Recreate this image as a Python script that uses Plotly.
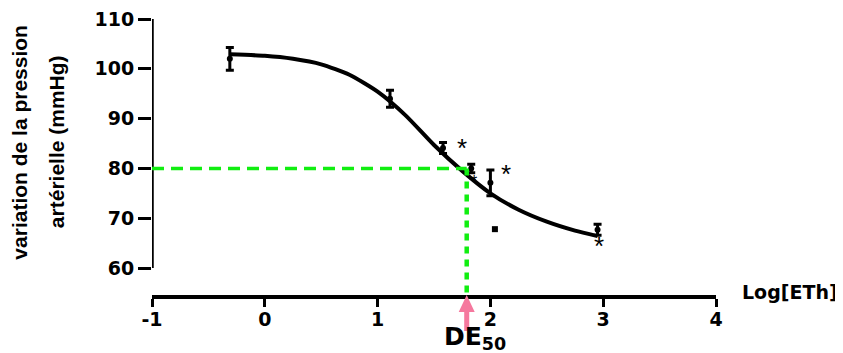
import plotly.graph_objects as go

# ---- data ----
log_dose = [-0.31, 1.11, 1.58, 1.83, 2.0, 2.95]
pressure_mean = [102.0, 94.0, 84.1, 80.0, 77.1, 67.7]
pressure_err = [2.3, 1.7, 1.1, 0.85, 2.6, 1.1]

outlier_x = [2.04]
outlier_y = [67.8]

fit_x = [-0.31, 0.0, 0.25, 0.5, 0.75, 1.0, 1.25, 1.5, 1.75, 2.0, 2.25, 2.5, 2.75, 2.95]
fit_y = [102.9, 102.6, 102.0, 100.9, 98.8, 95.4, 90.6, 84.7, 79.5, 75.0, 71.7, 69.3, 67.5, 66.4]

star_x = [1.745, 2.136, 2.963, 1.855]
star_y = [85.2, 80.1, 65.6, 78.1]
star_size = [26, 26, 26, 16]

de50_x = 1.79
de50_y = 80

x_ticks = [-1, 0, 1, 2, 3, 4]
x_ticklabels = ["-1", "0", "1", "2", "3", "4"]
y_ticks = [60, 70, 80, 90, 100, 110]
x_range = [-1, 4]
y_range = [54.58, 110]

BLACK = "#000000"
GREEN = "#11EE11"
PINK = "#F5789E"
TICKFONT = dict(family="DejaVu Sans", size=19, color=BLACK, weight="bold")

fig = go.Figure()

# fitted curve
fig.add_trace(go.Scatter(
    x=fit_x, y=fit_y, mode="lines",
    line=dict(color=BLACK, width=4, shape="spline", smoothing=0.6),
    hoverinfo="skip", showlegend=False))

# means with error bars
fig.add_trace(go.Scatter(
    x=log_dose, y=pressure_mean, mode="markers",
    marker=dict(color=BLACK, size=6, symbol="circle"),
    error_y=dict(type="data", array=pressure_err, visible=True,
                 color=BLACK, thickness=3, width=4),
    showlegend=False))

# outlier
fig.add_trace(go.Scatter(
    x=outlier_x, y=outlier_y, mode="markers",
    marker=dict(color=BLACK, size=6, symbol="square"),
    showlegend=False))

# y axis line (only from 60 to 110)
fig.add_shape(type="line", xref="x", yref="y",
              x0=x_range[0], x1=x_range[0], y0=y_ticks[0], y1=y_ticks[-1],
              line=dict(color=BLACK, width=3.5))

# green guide lines
fig.add_shape(type="line", xref="x", yref="y", layer="above",
              x0=x_range[0], x1=de50_x, y0=de50_y, y1=de50_y,
              line=dict(color=GREEN, width=3.5, dash="12px,7px"))
fig.add_shape(type="line", xref="x", yref="y", layer="above",
              x0=de50_x, x1=de50_x, y0=de50_y, y1=y_range[0],
              line=dict(color=GREEN, width=4.5, dash="7px,6px"))

# pink arrow (pixel-sized path anchored at the DE50 point on the x axis line)
de50_paper = (de50_x - x_range[0]) / (x_range[1] - x_range[0])
fig.add_shape(type="path", xref="paper", yref="paper", layer="above",
              xsizemode="pixel", ysizemode="pixel",
              xanchor=de50_paper, yanchor=0,
              path="M0,0 L-8,-17 L-2.5,-17 L-2.5,-36 L2.5,-36 L2.5,-17 L8,-17 Z",
              fillcolor=PINK, line=dict(color=PINK, width=0))

# asterisks
for sx, sy, ss in zip(star_x, star_y, star_size):
    fig.add_annotation(x=sx, y=sy, xref="x", yref="y", text="*",
                       showarrow=False, yshift=-ss * 0.22,
                       font=dict(family="Liberation Sans", size=ss, color=BLACK))

# y title (two lines)
fig.add_annotation(x=-0.2365, y=0.5543, xref="paper", yref="paper",
                   text="variation de la pression", textangle=-90, showarrow=False,
                   xanchor="center", yanchor="middle",
                   font=dict(family="Liberation Sans", size=21, color=BLACK, weight="bold"))
fig.add_annotation(x=-0.1700, y=0.5543, xref="paper", yref="paper",
                   text="artérielle (mmHg)", textangle=-90, showarrow=False,
                   xanchor="center", yanchor="middle",
                   font=dict(family="Liberation Sans", size=21, color=BLACK, weight="bold"))

# x title
fig.add_annotation(x=1.0425, y=0.012, xref="paper", yref="paper",
                   text="Log[ETh]", showarrow=False, xanchor="left", yanchor="middle",
                   font=dict(family="DejaVu Sans", size=19, color=BLACK, weight="bold"))

# DE50 label
fig.add_annotation(x=0.572, y=-0.157, xref="paper", yref="paper",
                   text="DE<sub>50</sub>", showarrow=False, xanchor="center", yanchor="middle",
                   font=dict(family="DejaVu Sans", size=25, color=BLACK, weight="bold"))

# the page body adds an 8px margin, so the figure is 8px smaller than the window
fig.update_layout(
    width=835, height=345,
    margin=dict(l=144, r=127, t=11, b=58, autoexpand=False),
    paper_bgcolor="white", plot_bgcolor="white",
    showlegend=False,
    xaxis=dict(range=x_range, tickvals=x_ticks, ticktext=x_ticklabels,
               showgrid=False, zeroline=False, showline=True, automargin=False,
               linecolor=BLACK, linewidth=3.5, ticklabeloverflow="allow",
               ticklabelstandoff=-4,
               ticks="outside", ticklen=8, tickwidth=3, tickcolor=BLACK,
               tickfont=TICKFONT, fixedrange=True),
    yaxis=dict(range=y_range, tickvals=y_ticks,
               showgrid=False, zeroline=False, showline=False, automargin=False,
               ticklabeloverflow="allow",
               ticks="outside", ticklen=13, tickwidth=3, tickcolor=BLACK,
               tickfont=TICKFONT, fixedrange=True),
)

fig.write_html("out.html")
